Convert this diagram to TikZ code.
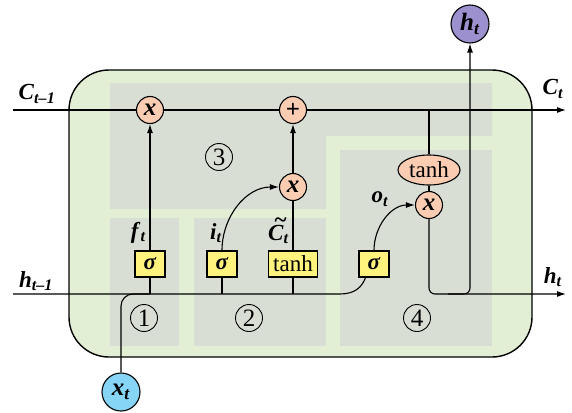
\documentclass[tikz,border=0pt]{standalone}
\usepackage{fontspec}
\setmainfont{Liberation Serif}
\usetikzlibrary{arrows.meta,positioning,shapes.geometric}

\definecolor{cellgreen}{HTML}{E2EFD4}
\definecolor{gategray}{HTML}{D9DED5}
\definecolor{opsalmon}{HTML}{FACDB2}
\definecolor{sigyellow}{HTML}{FFF27D}
\definecolor{outpurple}{HTML}{9C90CF}
\definecolor{inblue}{HTML}{86D5F6}

\newcommand{\vb}[2]{\textbf{\textit{#1}}\textsubscript{\textbf{\textit{#2}}}}
\newcommand{\bi}[1]{\textbf{\textit{#1}}}
\newcommand{\tC}{\rlap{\hspace{0.25em}\raisebox{0.55em}{\textasciitilde}}C}

\begin{document}
\begin{tikzpicture}[x=1pt,y=-1pt,>={Latex[length=9pt,width=6pt]},line width=1.1pt,
    font=\fontsize{22}{24}\selectfont]

    \tikzstyle{op}=[circle,draw,fill=opsalmon,minimum size=27pt,inner sep=0pt,font=\fontsize{25}{26}\selectfont]
    \tikzstyle{gate}=[rectangle,draw,fill=sigyellow,minimum width=30pt,minimum height=26pt,inner xsep=5pt,inner ysep=2pt,font=\fontsize{23}{24}\selectfont]
    \tikzstyle{io}=[circle,draw,minimum size=38pt,inner sep=0pt,font=\fontsize{25}{26}\selectfont]
    \tikzstyle{num}=[circle,draw,minimum size=27pt,inner sep=0pt,line width=0.9pt,font=\fontsize{25}{26}\selectfont]
    \tikzstyle{lab}=[inner sep=0pt,font=\fontsize{23}{24}\selectfont]

    \useasboundingbox (0,0) rectangle (572,412);

    % cell body and the four gate areas
    \draw[fill=cellgreen,rounded corners=40pt,line width=1.4pt] (69,70) rectangle (532,357);
    \fill[gategray] (110,83) -- (492,83) -- (492,136) -- (326,136) -- (326,209) -- (110,209) -- cycle;
    \fill[gategray] (110,218) rectangle (179,346);
    \fill[gategray] (194,218) rectangle (326,346);
    \fill[gategray] (340,150) rectangle (492,346);

    \node[num] (n3) at (219,157) {3};
    \node[num] (n1) at (144,318) {1};
    \node[num] (n2) at (249,318) {2};
    \node[num] (n4) at (417,318) {4};

    % inputs and outputs of the cell
    \coordinate (cin)   at (13,110);
    \coordinate (cout)  at (566,110);
    \coordinate (hin)   at (13,294);
    \coordinate (hout)  at (566,294);
    \coordinate (split) at (448,294);

    \node[io,fill=outpurple] (ht) at (470,24)  {\vb{h}{t}};
    \node[io,fill=inblue]    (xt) at (121,392) {\vb{x}{t}};

    % gates
    \node[gate] (fs) at (150,264) {\bi{σ}};
    \node[gate] (is) at (222,264) {\bi{σ}};
    \node[gate] (cs) at (293,264) {tanh};
    \node[gate] (os) at (374,264) {\bi{σ}};

    % pointwise operations
    \node[op] (fx)  at (150,110) {\bi{x}};
    \node[op] (add) at (293,110) {\textbf{+}};
    \node[op] (ix)  at (293,187) {\bi{x}};
    \node[op,ellipse,minimum width=62pt,minimum height=30pt,inner sep=1pt,font=\fontsize{23}{24}\selectfont] (th) at (429,170) {tanh};
    \node[op] (ox)  at (429,205) {\bi{x}};

    % labels
    \node[lab] (clast) at (37,94)  {\vb{C}{t–1}};
    \node[lab] (cnow)  at (553,89) {\vb{C}{t}};
    \node[lab] (hlast) at (36,281) {\vb{h}{t–1}};
    \node[lab] (hnow)  at (553,277) {\vb{h}{t}};
    \node[lab] (flab) [above left=7pt and -12pt of fs] {\vb{f}{t}};
    \node[lab] (ilab) [above left=7pt and -16pt of is] {\vb{i}{t}};
    \node[lab] (clab) [above left=6pt and -22pt of cs] {\vb{\tC}{t}};
    \node[lab] (olab) at (380,199) {\vb{o}{t}};

    % cell state line
    \draw (cin) -- (fx) -- (add);
    \draw[->] (add) -- (cout);
    \draw[->] (fs) -- (fx);
    \draw[->] (is) to[out=90,in=180] (ix);
    \draw (cs) -- (ix);
    \draw[->] (ix) -- (add);
    \draw (th) -- (th |- add);
    \draw (th) -- (ox);
    \draw[->] (os) to[out=90,in=180] (ox);

    % hidden state and input
    \draw (hin) -- (340,294) .. controls (355,294) and (362,287) .. (os.-122);
    \draw (fs) -- (fs |- hin);
    \draw (is) -- (is |- hin);
    \draw (cs) -- (cs |- hin);
    \draw[rounded corners=12pt] (xt) |- (fs |- hin);
    \draw[->,rounded corners=6pt] (ox) |- (hout);
    \draw[->,rounded corners=6pt] (split) -| (ht);
\end{tikzpicture}
\end{document}
